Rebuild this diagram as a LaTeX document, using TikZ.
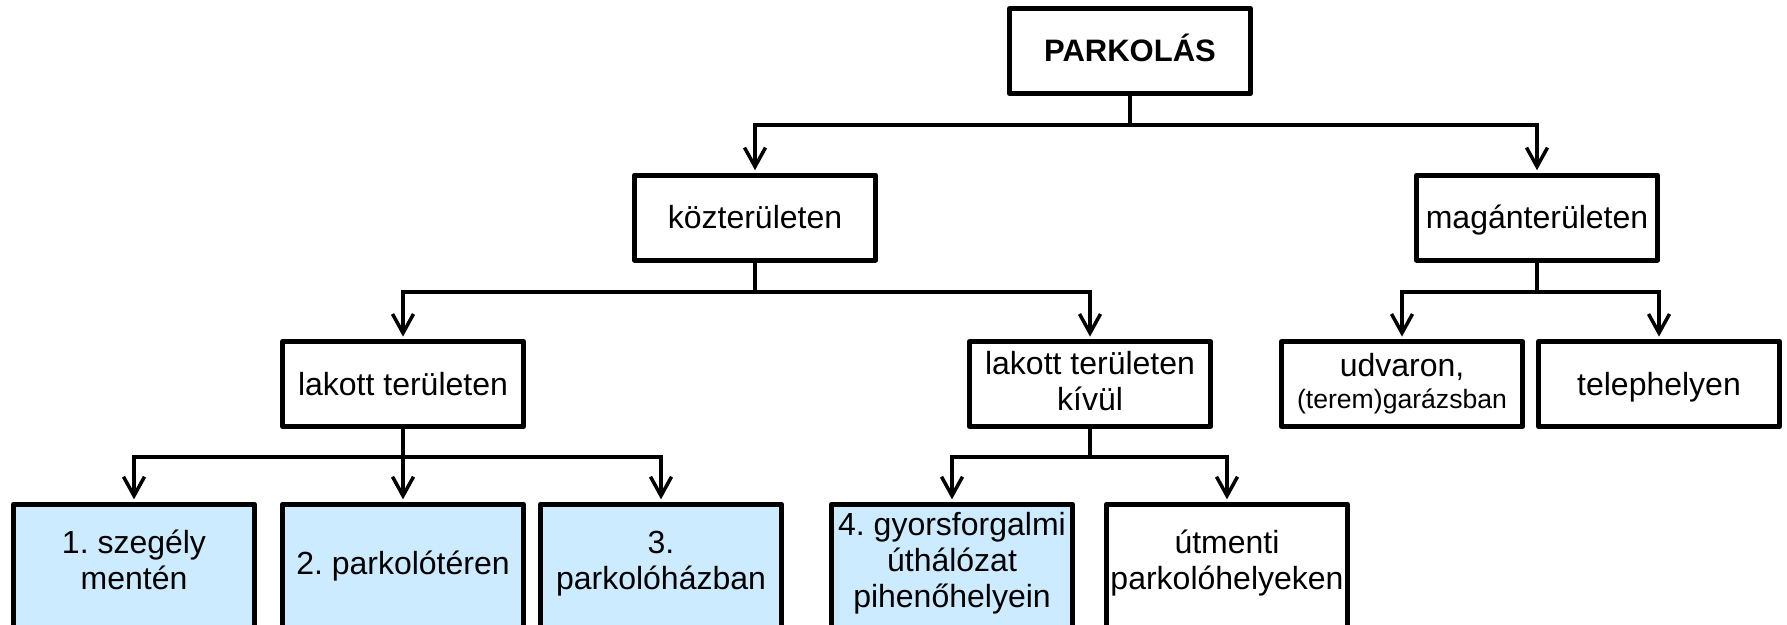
\documentclass[tikz,border=0pt]{standalone}
\usepackage{fontspec}
\setmainfont{Liberation Sans}
\usetikzlibrary{arrows.meta}
\frenchspacing
\definecolor{boxblue}{RGB}{204,235,255}
\newcommand\linestrut{\rule[-0.212em]{0pt}{1.117em}}
\tikzset{
  box/.style={draw=black, line width=2.5pt, line join=round, minimum width=120.5pt, minimum height=42.5pt,
    inner sep=0pt, align=center, font=\fontsize{16}{18}\selectfont, fill=white,
    execute at begin node=\linestrut, execute at end node=\linestrut},
  lowbox/.style={box, minimum height=63.75pt, execute at end node={\rule[-7.9pt]{0pt}{0pt}}},
  bluebox/.style={lowbox, fill=boxblue},
  conn/.style={line width=1.75pt, line join=miter},
  arr/.style={conn, -{Straight Barb[length=9.5pt,width=10.5pt,line width=1.75pt]}, shorten >=1.2pt}
}
\begin{document}
\begin{tikzpicture}[x=0.5pt,y=-0.5pt]
\useasboundingbox (0,0) rectangle (1787,625);
\clip (0,0) rectangle (1787,625);
% nodes
\node[box, font=\fontsize{15.5}{18}\selectfont\bfseries] (park) at (1130,51) {PARKOLÁS};
\node[box] (koz) at (755,217.6) {közterületen};
\node[box] (magan) at (1537,217.6) {magánterületen};
\node[box] (lakott) at (403,384) {lakott területen};
\node[box] (kivul) at (1090,384) {lakott területen\\kívül};
\node[box] (udvar) at (1402,384) {udvaron,\\[-2pt]{\fontsize{13.3}{15}\selectfont (terem)garázsban}};
\node[box] (telep) at (1659,384) {telephelyen};
\node[bluebox] (b1) at (134,568) {1. szegély\\mentén};
\node[bluebox] (b2) at (403,568) {2. parkolótéren};
\node[bluebox] (b3) at (661,568) {3.\\parkolóházban};
\node[bluebox] (b4) at (952,568) {4. gyorsforgalmi\\úthálózat\\pihenőhelyein};
\node[lowbox] (b5) at (1227,568) {útmenti\\parkolóhelyeken};
% junctions
\coordinate (j1) at (1130,125);
\coordinate (j2) at (755,292);
\coordinate (j3) at (1537,292);
\coordinate (j4) at (403,457);
\coordinate (j5) at (1090,457);
% connectors
\draw[conn] (park.south) -- (j1);
\draw[arr] (j1) -| (koz.north);
\draw[arr] (j1) -| (magan.north);
\draw[conn] (koz.south) -- (j2);
\draw[arr] (j2) -| (lakott.north);
\draw[arr] (j2) -| (kivul.north);
\draw[conn] (magan.south) -- (j3);
\draw[arr] (j3) -| (udvar.north);
\draw[arr] (j3) -| (telep.north);
\draw[conn] (lakott.south) -- (j4);
\draw[arr] (j4) -| (b1.north);
\draw[arr] (j4) -- (b2.north);
\draw[arr] (j4) -| (b3.north);
\draw[conn] (kivul.south) -- (j5);
\draw[arr] (j5) -| (b4.north);
\draw[arr] (j5) -| (b5.north);
\end{tikzpicture}
\end{document}
